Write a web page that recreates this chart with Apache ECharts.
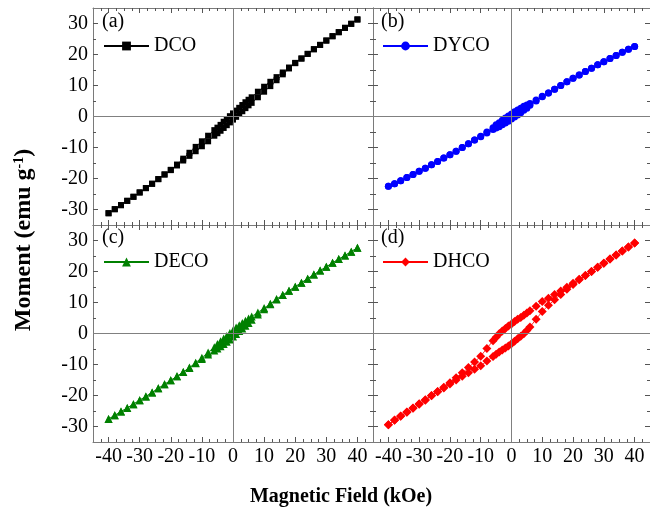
<!DOCTYPE html>
<html>
<head>
<meta charset="utf-8">
<script src="https://cdn.jsdelivr.net/npm/echarts@6/dist/echarts.min.js"></script>
<style>
  html, body { margin: 0; padding: 0; background: #fff; }
  #chart { width: 650px; height: 516px; }
</style>
</head>
<body>
<div id="chart"></div>
<script>
// Magnetic field sweep: +40 kOe down to -40 kOe, then back up (kOe)
const fieldDown = [40, 38, 36, 34, 32, 30, 28, 26, 24, 22, 20, 18, 16, 14, 12, 10, 8, 6,
  5, 4, 3, 2, 1, 0, -1, -2, -3, -4, -5, -6, -8,
  -10, -12, -14, -16, -18, -20, -22, -24, -26, -28, -30, -32, -34, -36, -38, -40];
const fieldUp = [-40, -38, -36, -34, -32, -30, -28, -26, -24, -22, -20, -18, -16, -14, -12, -10, -8, -6,
  -5, -4, -3, -2, -1, 0, 1, 2, 3, 4, 5, 6, 8,
  10, 12, 14, 16, 18, 20, 22, 24, 26, 28, 30, 32, 34, 36, 38, 40];

// Moment (emu/g) for each sample, descending and ascending branches
const dcoDown = [31.3, 29.9, 28.6, 27.2, 25.9, 24.5, 23.1, 21.7, 20.2, 18.7, 17.3, 15.8, 14.2, 12.7, 11.2, 9.6, 8.0, 6.2,
  5.4, 4.6, 3.7, 2.8, 1.9, 1.0, 0.1, -0.8, -1.7, -2.7, -3.6, -4.4, -6.2,
  -8.0, -9.8, -11.7, -13.6, -15.5, -17.2, -18.7, -20.2, -21.7, -23.1, -24.5, -25.9, -27.2, -28.6, -29.9, -31.2];
const dcoUp = [-31.2, -29.9, -28.6, -27.2, -25.9, -24.5, -23.1, -21.7, -20.2, -18.7, -17.3, -15.8, -14.2, -12.7, -11.2, -9.6, -8.0, -6.2,
  -5.4, -4.6, -3.7, -2.8, -1.9, -1.0, -0.1, 0.8, 1.7, 2.7, 3.6, 4.4, 6.2,
  8.0, 9.8, 11.7, 13.6, 15.5, 17.2, 18.7, 20.2, 21.7, 23.1, 24.5, 25.9, 27.2, 28.6, 29.9, 31.3];

const dycoDown = [22.6, 21.7, 20.7, 19.7, 18.7, 17.7, 16.7, 15.6, 14.5, 13.4, 12.3, 11.2, 10.0, 8.8, 7.6, 6.5, 5.3, 4.2,
  3.7, 3.3, 2.7, 2.1, 1.5, 0.8, 0.2, -0.5, -1.2, -2.0, -2.7, -3.6, -5.0,
  -6.4, -7.6, -8.8, -10.0, -11.2, -12.3, -13.4, -14.5, -15.6, -16.7, -17.7, -18.7, -19.7, -20.7, -21.7, -22.5];
const dycoUp = [-22.5, -21.7, -20.7, -19.7, -18.7, -17.7, -16.7, -15.6, -14.5, -13.4, -12.3, -11.2, -10.0, -8.8, -7.6, -6.5, -5.3, -4.2,
  -3.7, -3.3, -2.7, -2.1, -1.5, -0.8, -0.2, 0.5, 1.2, 2.0, 2.7, 3.6, 5.0,
  6.4, 7.6, 8.8, 10.0, 11.2, 12.3, 13.4, 14.5, 15.6, 16.7, 17.7, 18.7, 19.7, 20.7, 21.7, 22.6];

const decoDown = [27.7, 26.4, 25.2, 24.0, 22.8, 21.5, 20.3, 19.0, 17.7, 16.4, 15.1, 13.8, 12.4, 11.1, 9.6, 8.2, 6.8, 5.5,
  4.8, 4.1, 3.4, 2.7, 1.9, 1.0, 0.2, -0.8, -1.6, -2.5, -3.4, -4.4, -6.1,
  -7.8, -9.4, -11.0, -12.4, -13.8, -15.1, -16.4, -17.7, -19.0, -20.3, -21.5, -22.8, -24.0, -25.2, -26.4, -27.6];
const decoUp = [-27.6, -26.4, -25.2, -24.0, -22.8, -21.5, -20.3, -19.0, -17.7, -16.4, -15.1, -13.8, -12.4, -11.1, -9.6, -8.2, -6.8, -5.5,
  -4.8, -4.1, -3.4, -2.7, -1.9, -1.0, -0.2, 0.8, 1.6, 2.5, 3.4, 4.4, 6.1,
  7.8, 9.4, 11.0, 12.4, 13.8, 15.1, 16.4, 17.7, 19.0, 20.3, 21.5, 22.8, 24.0, 25.2, 26.4, 27.7];

const dhcoDown = [29.2, 27.9, 26.6, 25.3, 24.0, 22.7, 21.4, 20.0, 18.7, 17.5, 16.2, 14.9, 13.7, 12.6, 11.4, 10.3, 8.8, 7.3,
  6.6, 5.9, 5.2, 4.6, 3.9, 3.1, 2.4, 1.6, 0.8, -0.1, -1.2, -2.3, -4.8,
  -7.3, -9.2, -11.0, -12.7, -14.3, -15.9, -17.3, -18.7, -20.0, -21.4, -22.7, -24.0, -25.3, -26.6, -27.9, -29.4];
const dhcoUp = [-29.4, -28.0, -26.7, -25.4, -24.1, -22.8, -21.5, -20.1, -18.8, -17.6, -16.3, -15.0, -13.8, -12.7, -11.5, -10.4, -8.9, -7.4,
  -6.7, -6.0, -5.3, -4.7, -4.0, -3.3, -2.5, -1.7, -0.9, -0.1, 1.0, 2.1, 4.6,
  7.1, 9.1, 10.9, 12.6, 14.3, 15.8, 17.3, 18.7, 20.0, 21.4, 22.7, 24.0, 25.3, 26.6, 27.9, 29.2];

// Tick values
const xMajor = [-40, -30, -20, -10, 0, 10, 20, 30, 40];
const yMajor = [-30, -20, -10, 0, 10, 20, 30];
const yMinor = [-25, -15, -5, 5, 15, 25];
const xMinor = [];
for (let v = -42.5; v <= 42.5; v += 2.5) {
  if (v % 10 !== 0) xMinor.push(v);
}

const FONT = 'Liberation Serif';
const FRAME = '#7a7a7a';
const TICK = '#555';

const panels = [
  { name: 'DCO',  tag: '(a)', down: dcoDown,  up: dcoUp,  color: '#000000', symbol: 'rect',     size: 6,
    grid: { left: 93,  top: 8,   width: 280, height: 217 }, xLabels: false, yLabels: true,
    tagPos: [102, 12],  legendPos: [103, 36] },
  { name: 'DYCO', tag: '(b)', down: dycoDown, up: dycoUp, color: '#0000ff', symbol: 'circle',   size: 7,
    grid: { left: 373, top: 8,   width: 279, height: 217 }, xLabels: false, yLabels: false,
    tagPos: [381, 12],  legendPos: [382, 36] },
  { name: 'DECO', tag: '(c)', down: decoDown, up: decoUp, color: '#008000', symbol: 'triangle', size: 8,
    grid: { left: 93,  top: 225, width: 280, height: 217 }, xLabels: true,  yLabels: true,
    tagPos: [102, 228], legendPos: [103, 252] },
  { name: 'DHCO', tag: '(d)', down: dhcoDown, up: dhcoUp, color: '#ff0000', symbol: 'diamond',  size: 9,
    grid: { left: 373, top: 225, width: 279, height: 217 }, xLabels: true,  yLabels: false,
    tagPos: [381, 228], legendPos: [382, 252] }
];

function axis(gridIndex, position, range, ticks, len, showLine, labels) {
  return {
    type: 'value', gridIndex, position, min: range[0], max: range[1],
    axisLine: { show: showLine, onZero: false, lineStyle: { color: FRAME, width: 1 } },
    axisTick: { show: true, inside: true, length: len, customValues: ticks, lineStyle: { color: TICK, width: 1 } },
    axisLabel: labels
      ? { show: true, customValues: ticks, margin: 5, fontFamily: FONT, fontSize: 20, color: '#000' }
      : { show: false },
    splitLine: { show: false },
    minorTick: { show: false }
  };
}

const xAxes = [], yAxes = [], series = [];
panels.forEach((p, i) => {
  const X = [-45, 45], Y = [-35, 35];
  xAxes.push(
    axis(i, 'bottom', X, xMajor, 5, true, p.xLabels),
    axis(i, 'bottom', X, xMinor, 3, false, false),
    axis(i, 'top', X, xMajor, 5, true, false),
    axis(i, 'top', X, xMinor, 3, false, false)
  );
  yAxes.push(
    axis(i, 'left', Y, yMajor, 5, true, p.yLabels),
    axis(i, 'left', Y, yMinor, 3, false, false),
    axis(i, 'right', Y, yMajor, 5, true, false),
    axis(i, 'right', Y, yMinor, 3, false, false)
  );
  const loop = fieldDown.map((h, k) => [h, p.down[k]])
    .concat(fieldUp.map((h, k) => [h, p.up[k]]));
  series.push({
    type: 'line', name: p.name, xAxisIndex: i * 4, yAxisIndex: i * 4,
    data: loop, symbol: p.symbol, symbolSize: p.size, showSymbol: true,
    itemStyle: { color: p.color }, lineStyle: { color: p.color, width: 0.8 },
    emphasis: { disabled: true }, z: 3,
    markLine: {
      silent: true, symbol: 'none', animation: false, label: { show: false },
      lineStyle: { color: '#808080', width: 1, type: 'solid' },
      data: [{ xAxis: 0 }, { yAxis: 0 }]
    }
  });
});

const option = {
  animation: false,
  backgroundColor: '#ffffff',
  grid: panels.map(p => p.grid),
  xAxis: xAxes,
  yAxis: yAxes,
  title: panels.map(p => ({
    text: p.tag, left: p.tagPos[0], top: p.tagPos[1], padding: 0,
    textStyle: { fontFamily: FONT, fontSize: 20, fontWeight: 'normal', color: '#000' }
  })),
  legend: panels.map(p => ({
    data: [p.name], left: p.legendPos[0], top: p.legendPos[1], padding: 0,
    itemWidth: 45, itemHeight: 11, selectedMode: false,
    textStyle: { fontFamily: FONT, fontSize: 20, color: '#000' }
  })),
  graphic: [
    {
      type: 'text', x: 24, y: 240, rotation: Math.PI / 2,
      style: {
        text: '{a|Moment (emu g}{s|-1}{a|)}',
        align: 'center', verticalAlign: 'middle',
        rich: {
          a: { fontFamily: FONT, fontWeight: 'bold', fontSize: 24, fill: '#000' },
          s: { fontFamily: FONT, fontWeight: 'bold', fontSize: 14, fill: '#000', verticalAlign: 'top' }
        }
      }
    },
    {
      type: 'text', x: 341, y: 497,
      style: {
        text: 'Magnetic Field (kOe)', align: 'center', verticalAlign: 'middle',
        fontFamily: FONT, fontWeight: 'bold', fontSize: 20, fill: '#000'
      }
    }
  ],
  series
};

const chart = echarts.init(document.getElementById('chart'), null, { renderer: 'canvas' });
chart.setOption(option);
</script>
</body>
</html>
